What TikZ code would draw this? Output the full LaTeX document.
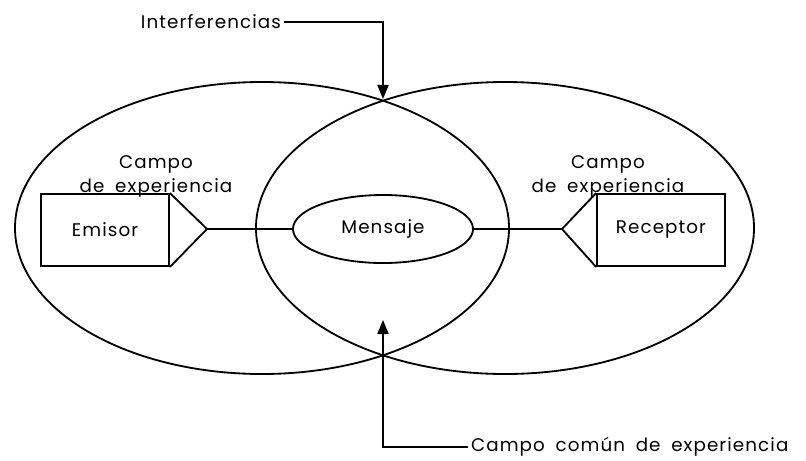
\documentclass[tikz,border=0pt]{standalone}
\usepackage{fontspec}
\setmainfont{Poppins}[LetterSpace=6, WordSpace=1.8]
\usetikzlibrary{arrows.meta,shapes.geometric}
\tikzset{
  campo/.style={line width=1.3pt},
  caja/.style={draw, line width=1.3pt, minimum width=3.2cm, minimum height=1.8cm, inner sep=0pt},
  elipse/.style={draw, ellipse, line width=1.3pt, minimum width=4.5cm, minimum height=1.7cm, inner sep=0pt},
  flecha/.style={line width=1pt, -{Triangle[length=10pt,width=8pt]}},
  rotulo/.style={align=center, inner sep=2pt}
}
\begin{document}
\begin{tikzpicture}[x=0.025cm, y=-0.025cm, font=\fontsize{13}{17}\selectfont]
  \useasboundingbox (0,0) rectangle (806,460);
  % campos de experiencia
  \draw[campo] (262,228) ellipse [x radius=247, y radius=146];
  \draw[campo] (505,228) ellipse [x radius=249, y radius=146];
  \coordinate (cruce arriba) at (383,99);
  \coordinate (cruce abajo) at (383,320);
  % nodos
  \node[caja] (emisor) at (105,230) {Emisor};
  \node[caja] (receptor) at (661,230) {Receptor};
  \node[elipse] (mensaje) at (383,229) {Mensaje};
  \coordinate (puntaE) at (207,229);
  \coordinate (puntaR) at (562,229);
  \draw[campo] (emisor.north east) -- (puntaE) -- (emisor.south east);
  \draw[campo] (receptor.north west) -- (puntaR) -- (receptor.south west);
  \draw[campo] (puntaE) -- (mensaje);
  \draw[campo] (mensaje) -- (puntaR);
  % rotulos
  \node[rotulo] (campoE) at (156,176) {Campo\\de experiencia};
  \node[rotulo] (campoR) at (608,176) {Campo\\de experiencia};
  \node[rotulo, anchor=east] (interferencias) at (284,22) {Interferencias};
  \node[rotulo, anchor=west] (comun) at (468,447) {Campo común de experiencia};
  \draw[flecha] (interferencias.east) -| (cruce arriba);
  \draw[flecha] (comun.west) -| (cruce abajo);
\end{tikzpicture}
\end{document}
